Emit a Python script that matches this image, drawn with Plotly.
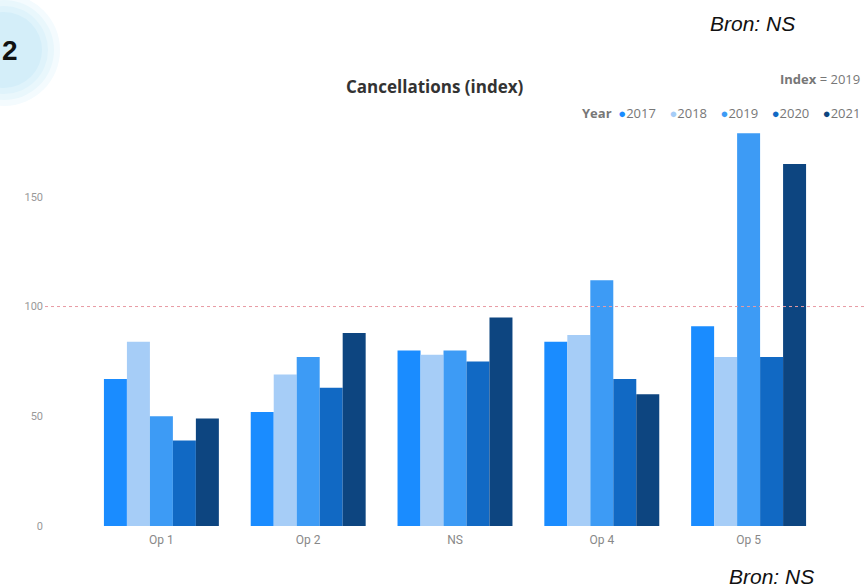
import plotly.graph_objects as go

categories = ["Op 1", "Op 2", "NS", "Op 4", "Op 5"]
years = ["2017", "2018", "2019", "2020", "2021"]
values_2017 = [67, 52, 80, 84, 91]
values_2018 = [84, 69, 78, 87, 77]
values_2019 = [50, 77, 80, 112, 179]
values_2020 = [39, 63, 75, 67, 77]
values_2021 = [49, 88, 95, 60, 165]
series = [values_2017, values_2018, values_2019, values_2020, values_2021]
colors = ["#1a8cff", "#a6cdf7", "#3d9bf5", "#1169c4", "#0d4580"]
ytick_vals = [0, 50, 100, 150]
index_line = 100

W, H = 864, 587
L, R, T, B = 88, 822, 120, 526


def xp(px):
    return (px - L) / (R - L)


def yp(py):
    return (B - py) / (B - T)


fig = go.Figure()
for yr, vals, col in zip(years, series, colors):
    fig.add_trace(go.Bar(x=categories, y=vals, name=yr, marker_color=col,
                         marker_line_width=0, showlegend=False))

legend_text = "<b>Year</b>&nbsp;&nbsp;" + "&nbsp;&nbsp;&nbsp;&nbsp;".join(
    f"<span style='color:{c}'>●</span>{y}" for y, c in zip(years, colors))

annotations = [
    dict(text="<b>Cancellations (index)</b>", x=xp(435), y=yp(86), xref="paper", yref="paper",
         xanchor="center", yanchor="middle", showarrow=False,
         font=dict(family="Open Sans", size=17, color="#333333")),
    dict(text="<b>Index</b> = 2019", x=xp(862), y=yp(79), xref="paper", yref="paper",
         xanchor="right", yanchor="middle", showarrow=False,
         font=dict(family="Open Sans", size=13, color="#777777")),
    dict(text=legend_text, x=xp(862), y=yp(113), xref="paper", yref="paper",
         xanchor="right", yanchor="middle", showarrow=False,
         font=dict(family="Open Sans", size=13, color="#777777")),
    dict(text="<i>Bron: NS</i>", x=xp(797), y=yp(23), xref="paper", yref="paper",
         xanchor="right", yanchor="middle", showarrow=False,
         font=dict(family="Liberation Sans", size=21, color="#111111")),
    dict(text="<i>Bron: NS</i>", x=xp(816), y=yp(576), xref="paper", yref="paper",
         xanchor="right", yanchor="middle", showarrow=False,
         font=dict(family="Liberation Sans", size=21, color="#111111")),
    dict(text="<b>2</b>", x=xp(0), y=yp(50), xref="paper", yref="paper",
         xanchor="left", yanchor="middle", showarrow=False,
         font=dict(family="Liberation Sans", size=28, color="#111111")),
]

shapes = []
for (r, col) in [(56, "#f4fbfe"), (50, "#e9f7fc"), (44, "#dff3fb"), (38, "#d4eef9")]:
    cx, cy = 4, 50
    shapes.append(dict(type="circle", xref="paper", yref="paper",
                       x0=xp(cx - r), x1=xp(cx + r), y0=yp(cy + r), y1=yp(cy - r),
                       fillcolor=col, line=dict(width=0), layer="below"))
shapes.append(dict(type="line", xref="paper", yref="y", x0=xp(45), x1=xp(864),
                   y0=index_line, y1=index_line,
                   line=dict(color="#e89aa4", width=1, dash="dot"), layer="above"))

fig.update_layout(
    width=W, height=H,
    margin=dict(l=L, r=W - R, t=T, b=H - B, pad=0),
    paper_bgcolor="white", plot_bgcolor="white",
    barmode="group", bargap=0.217, bargroupgap=0,
    showlegend=False,
    annotations=annotations, shapes=shapes,
    font=dict(family="Roboto", color="#888888"),
)
fig.update_xaxes(showgrid=False, showline=False, zeroline=False, ticks="",
                 ticklabelstandoff=5,
                 tickfont=dict(family="Roboto", size=12, color="#888888"))
fig.update_yaxes(range=[0, 185], tickvals=ytick_vals, showgrid=False, showline=False,
                 zeroline=False, ticks="", ticklabelstandoff=44,
                 tickfont=dict(family="Roboto", size=11, color="#999999"))

fig.write_html("out.html", config={"displayModeBar": False},
               post_script="document.body.style.margin='0px';")
